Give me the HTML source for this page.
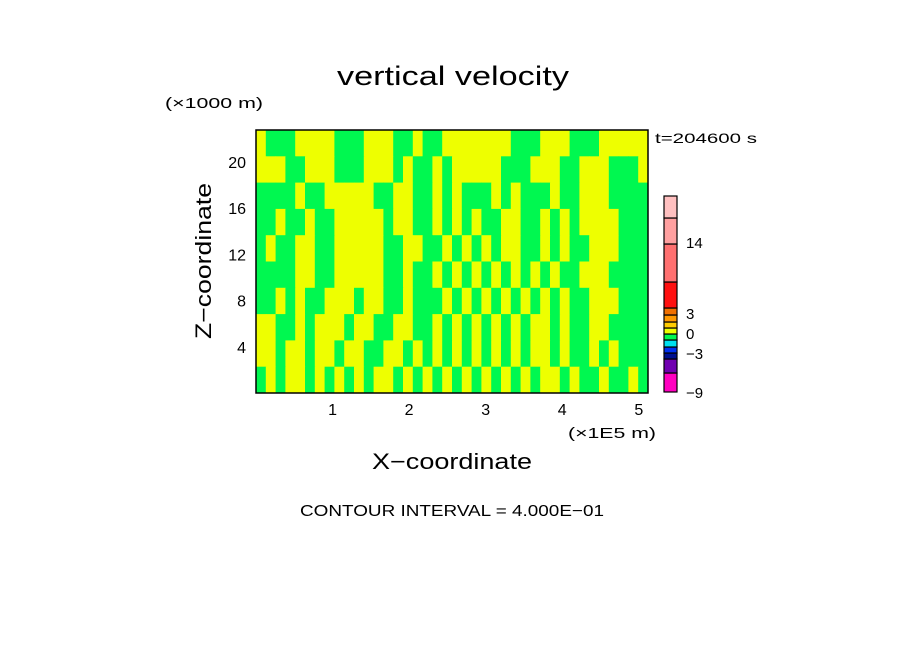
<!DOCTYPE html>
<html><head><meta charset="utf-8"><style>
html,body{margin:0;padding:0;background:#fff;}
svg{display:block;font-family:"Liberation Sans",sans-serif;}
</style></head><body>
<svg id="chart" width="904" height="654" viewBox="0 0 904 654">
<rect width="904" height="654" fill="#fff"/>
<text x="453" y="85" font-size="27" text-anchor="middle" textLength="232" lengthAdjust="spacingAndGlyphs">vertical velocity</text>
<text x="165" y="108" font-size="15" textLength="98" lengthAdjust="spacingAndGlyphs">(×1000 m)</text>
<text x="655" y="143" font-size="14" textLength="102" lengthAdjust="spacingAndGlyphs">t=204600 s</text>
<g id="field"></g>
<rect x="256" y="130" width="392" height="263" fill="none" stroke="#000" stroke-width="1.5"/>
<g id="xticks"></g>
<g id="yticks"></g>
<text x="568" y="438" font-size="15" textLength="88" lengthAdjust="spacingAndGlyphs">(×1E5 m)</text>
<text x="452" y="469" font-size="22" text-anchor="middle" textLength="160" lengthAdjust="spacingAndGlyphs">X−coordinate</text>
<text transform="translate(211,261) rotate(-90)" font-size="22" text-anchor="middle" textLength="156" lengthAdjust="spacingAndGlyphs">Z−coordinate</text>
<text x="452" y="516" font-size="16" text-anchor="middle" textLength="304" lengthAdjust="spacingAndGlyphs">CONTOUR INTERVAL = 4.000E−01</text>
<g id="colorbar"></g>
</svg>
<script>
const xTicks=[1,2,3,4,5];
const zTicks=[4,8,12,16,20];
const xMax=5.12, zMax=22.75;
const fieldRows=[
"YGGGYYYYGGGYYYGGYGGYYYYYYYGGGYYYGGGYYYYY",
"YYYGGYYYGGGYYYGYGGYGYYYYYGGGYYYGGYYYGGGY",
"GGGGYGGYYYYYGGYYGGYGYGGGYGYGGGYGGYYYGGGG",
"GGYGGYGGYYYYYGYYGGYGYGYGGYYGGYGYGYYYYGGG",
"GYGGYYGGYYYYYGGYYGGYGYGYGYYGGYGYGGYYYGGG",
"GGGGYYGGYYYYYGGYGGYGYGYGYGYGYGYGGYYYGGGG",
"GGYGYGGYYYGYYGGYGGGYGYGYGYGYGYGYGGYYYGGG",
"YYGGYGYYYGYYGGYYGGYGYGYGYGYGYYGYGGYYGGGG",
"YYGYYGYYGYYGGYYGYGYGYGYGYGYGYYGYGGYGYGGG",
"GYGYYGYGYGYGYYGYGYGYGYGYGYGYGYYGYGGYGGYG"];
const cbColors=["#ff00c0","#7000b0","#001090","#0030f0","#00e0f0","#00f850","#eeff00","#ffcc00","#ff9900","#f07000","#ff1010","#ff7070","#ffa0a0","#ffc0c0"];
const cbEdges=[392,373,359,353,347,340,334,328,322,315,308,282,244,218,196];
const cbLabels=["-9","-3","0","3","14"];
const cbLabelY=[392,353,333,313,242];
const X0=256,X1=648,Y0=393,Y1=130;
const xs=v=>X0+(v/xMax)*(X1-X0);
const zs=v=>Y0-(v/zMax)*(Y0-Y1);
const NS="http://www.w3.org/2000/svg";
function mk(t,a){const e=document.createElementNS(NS,t);for(const k in a)e.setAttribute(k,a[k]);return e;}
const field=document.getElementById('field');
const nr=fieldRows.length,nc=fieldRows[0].length;
for(let r=0;r<nr;r++){for(let c=0;c<nc;c++){
 const x0=xs(c*xMax/nc),x1=xs((c+1)*xMax/nc),ya=zs(zMax*(1-r/nr)),yb=zs(zMax*(1-(r+1)/nr));
 const el=mk('rect',{x:x0,y:ya,width:x1-x0+0.5,height:yb-ya+0.5,fill:fieldRows[r][c]==='Y'?'#eeff00':'#00f850'});
 
 
 field.appendChild(el);}}
const xg=document.getElementById('xticks');
xTicks.forEach(v=>{const t=mk('text',{x:xs(v),y:415,'font-size':16,'text-anchor':'middle'});t.textContent=v;
 
 
 xg.appendChild(t);});
const yg=document.getElementById('yticks');
zTicks.forEach(v=>{const t=mk('text',{x:246,y:zs(v)+6,'font-size':16,'text-anchor':'end'});t.textContent=v;
 
 
 yg.appendChild(t);});
const cb=document.getElementById('colorbar');
cbColors.forEach((col,i)=>{const r=mk('rect',{x:664,y:cbEdges[i+1],width:13,height:cbEdges[i]-cbEdges[i+1],fill:col,stroke:'#000','stroke-width':1.2});
 
 
 cb.appendChild(r);});
cbLabels.forEach((l,i)=>{const t=mk('text',{x:686,y:cbLabelY[i]+6,'font-size':15});t.textContent=l.replace('-','−');
 
 
 cb.appendChild(t);});
</script>
</body></html>
